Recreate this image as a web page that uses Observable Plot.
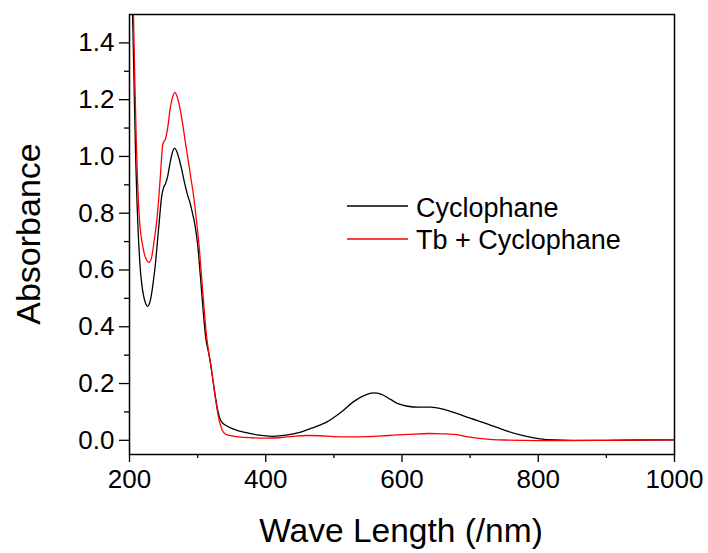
<!DOCTYPE html>
<html>
<head>
<meta charset="utf-8">
<script src="https://cdn.jsdelivr.net/npm/d3@7"></script>
<script src="https://cdn.jsdelivr.net/npm/@observablehq/plot@0.6"></script>
<style>
  html, body { margin: 0; padding: 0; background: #fff; }
  svg { display: block; }
</style>
</head>
<body>
<div id="chart"></div>
<script>
const seriesNames = ["Cyclophane", "Tb + Cyclophane"];
const seriesColors = ["#000000", "#ff0000"];

const cycloNm = [200, 203, 205, 207, 209, 211, 213, 215, 218, 221, 224, 226.5, 229, 232, 235, 238, 241, 244, 247, 250, 253, 256, 259, 262, 266, 269, 273, 277, 281, 285, 289, 292, 296, 300, 304, 308, 312, 316, 319, 322, 326, 330, 333, 337, 341, 350, 360, 375, 390, 410, 430, 450, 470, 490, 510, 530, 545, 558, 570, 583, 595, 608, 625, 642, 660, 680, 700, 725, 750, 775, 800, 825, 850, 900, 950, 1000];
const cycloAbs = [2.0, 1.62, 1.45, 1.22, 1.0, 0.84, 0.72, 0.63, 0.55, 0.505, 0.48, 0.472, 0.48, 0.51, 0.56, 0.62, 0.70, 0.78, 0.855, 0.89, 0.905, 0.93, 0.97, 1.005, 1.029, 1.02, 0.99, 0.95, 0.905, 0.866, 0.835, 0.805, 0.76, 0.69, 0.58, 0.46, 0.36, 0.31, 0.27, 0.22, 0.155, 0.10, 0.075, 0.06, 0.053, 0.042, 0.033, 0.025, 0.018, 0.014, 0.018, 0.028, 0.045, 0.065, 0.098, 0.138, 0.158, 0.167, 0.162, 0.144, 0.128, 0.12, 0.117, 0.117, 0.11, 0.095, 0.078, 0.058, 0.036, 0.018, 0.006, 0.001, 0.0, 0.0, 0.001, 0.002];

const tbNm = [200, 204, 206, 208, 210, 212, 214, 216, 219, 222, 225, 228.5, 232, 236, 240.6, 245, 249, 252.8, 256, 260, 264, 266.6, 270, 274, 277.3, 282, 287, 291, 294.4, 298, 302, 306, 310, 313, 316, 319, 322, 326, 330, 334, 338, 345, 360, 380, 400, 420, 440, 460, 480, 500, 520, 550, 580, 610, 640, 660, 680, 700, 720, 750, 800, 850, 900, 950, 1000];
const tbAbs = [2.2, 1.65, 1.48, 1.25, 1.05, 0.90, 0.80, 0.74, 0.69, 0.655, 0.635, 0.627, 0.64, 0.70, 0.786, 0.92, 1.044, 1.062, 1.10, 1.173, 1.215, 1.226, 1.21, 1.17, 1.126, 1.05, 0.974, 0.91, 0.856, 0.78, 0.69, 0.57, 0.45, 0.37, 0.315, 0.27, 0.22, 0.15, 0.09, 0.05, 0.028, 0.018, 0.012, 0.009, 0.008, 0.009, 0.014, 0.017, 0.016, 0.013, 0.012, 0.013, 0.017, 0.021, 0.024, 0.023, 0.02, 0.011, 0.005, 0.001, -0.001, -0.001, 0.0, 0.001, 0.002];

const xMajorTicks = [200, 400, 600, 800, 1000];
const xMinorTicks = [300, 500, 700, 900];
const yMajorTicks = [0.0, 0.2, 0.4, 0.6, 0.8, 1.0, 1.2, 1.4];
const yMinorTicks = [0.1, 0.3, 0.5, 0.7, 0.9, 1.1, 1.3];
const xTitle = "Wave Length (/nm)";
const yTitle = "Absorbance";

const data = [
  ...cycloNm.map((x, i) => ({x, y: cycloAbs[i], s: seriesNames[0]})),
  ...tbNm.map((x, i) => ({x, y: tbAbs[i], s: seriesNames[1]}))
];

const FONT = "'Liberation Sans', Arial, Helvetica, sans-serif";

const chart = Plot.plot({
  width: 708,
  height: 553,
  marginLeft: 129,
  marginRight: 34,
  marginTop: 14,
  marginBottom: 99,
  style: {fontFamily: FONT, background: "#fff", color: "#000"},
  x: {domain: [200, 1000]},
  y: {domain: [-0.05, 1.5]},
  color: {domain: seriesNames, range: seriesColors},
  marks: [
    Plot.line(data.filter(d => d.s === seriesNames[0]), {x: "x", y: "y", stroke: "s", strokeWidth: 1.3, curve: "monotone-x", clip: true}),
    Plot.line(data.filter(d => d.s === seriesNames[1]), {x: "x", y: "y", stroke: "s", strokeWidth: 1.3, curve: "monotone-x", clip: true}),
    Plot.axisX({ticks: xMajorTicks, tickSize: 8, tickPadding: 7, fontSize: 26, label: null, tickFormat: d3.format("d"), strokeWidth: 1.3}),
    Plot.axisX({ticks: xMinorTicks, tickSize: 4, text: null, label: null, strokeWidth: 1.3}),
    Plot.axisY({ticks: yMajorTicks, tickSize: 10, tickPadding: 5, fontSize: 26, label: null, tickFormat: d3.format(".1f"), strokeWidth: 1.3}),
    Plot.axisY({ticks: yMinorTicks, tickSize: 5, text: null, label: null, strokeWidth: 1.3}),
    Plot.frame({stroke: "#000", strokeWidth: 1.5})
  ]
});

const svg = d3.select(chart);
svg.append("text")
  .attr("x", 401).attr("y", 541.5)
  .attr("text-anchor", "middle")
  .attr("font-family", FONT).attr("font-size", 33.5).attr("fill", "#000")
  .text(xTitle);
svg.append("text")
  .attr("transform", "translate(39.5,234) rotate(-90)")
  .attr("text-anchor", "middle")
  .attr("font-family", FONT).attr("font-size", 34).attr("fill", "#000")
  .text(yTitle);

const legendY = [206, 239];
const baseY = [216.5, 249];
seriesNames.forEach((name, i) => {
  svg.append("line")
    .attr("x1", 347).attr("x2", 408).attr("y1", legendY[i]).attr("y2", legendY[i])
    .attr("stroke", seriesColors[i]).attr("stroke-width", 1.3);
  svg.append("text")
    .attr("x", 416).attr("y", baseY[i])
    .attr("text-anchor", "start")
    .attr("font-family", FONT).attr("font-size", 27).attr("fill", "#000")
    .text(name);
});

document.getElementById("chart").appendChild(chart);
</script>
</body>
</html>
